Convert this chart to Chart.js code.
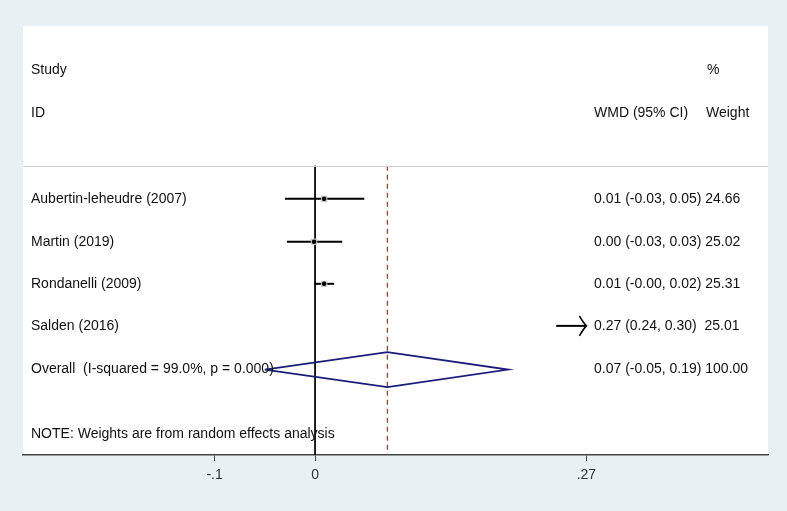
<!DOCTYPE html>
<html>
<head>
<meta charset="UTF-8" />
<title>Forest plot</title>
<script src="https://cdn.jsdelivr.net/npm/chart.js"></script>
<style>
html, body { margin:0; padding:0; background:#e9f0f3; }
#wrap { width:787px; height:511px; position:relative; }
</style>
</head>
<body>
<div id="wrap"><canvas id="chart"></canvas></div>

<script>
// study data (WMD with 95% CI)
const studies = ['Aubertin-leheudre (2007)', 'Martin (2019)', 'Rondanelli (2009)', 'Salden (2016)'];
const wmd     = [0.009, -0.001, 0.009, 0.27];
const ciLow   = [-0.030, -0.028, -0.001, 0.24];
const ciHigh  = [0.049, 0.027, 0.019, 0.30];
const ciText  = ['0.01 (-0.03, 0.05) 24.66', '0.00 (-0.03, 0.03) 25.02', '0.01 (-0.00, 0.02) 25.31', '0.27 (0.24, 0.30)  25.01'];

const overallLabel = 'Overall  (I-squared = 99.0%, p = 0.000)';
const overallEst  = 0.072;
const overallLow  = -0.050;
const overallHigh = 0.192;
const overallText = '0.07 (-0.05, 0.19) 100.00';

const xTicks = [-0.1, 0, 0.27];
const xTickLabels = ['-.1', '0', '.27'];
const xClip = 0.27;   // CI lines beyond this get an arrow

// row positions (in row units from the top)
const studyRows = [4.07, 5.08, 6.07, 7.06];
const overallRow = 8.09;
const sepRow = 3.29;
const bottomRow = 10.1;

const FONT = '14px "Liberation Sans", Arial, sans-serif';

const datasets = [];

// zero line
datasets.push({ type:'line', order:5, data:[{x:0,y:sepRow},{x:0,y:bottomRow}], borderColor:'#000', borderWidth:1, pointRadius:0 });
// overall estimate dashed line
datasets.push({ type:'line', order:4, data:[{x:overallEst,y:sepRow},{x:overallEst,y:bottomRow}], borderColor:'#b03636', borderWidth:1.3, borderDash:[5,4], pointRadius:0 });

// CI lines
studies.forEach((s, i) => {
  const hi = Math.min(ciHigh[i], xClip);
  datasets.push({ type:'line', order:3, data:[{x:ciLow[i],y:studyRows[i]},{x:hi,y:studyRows[i]}], borderColor:'#000', borderWidth:2, pointRadius:0 });
});

// weight boxes + point estimates (only for those inside the axis)
const inside = wmd.map((v, i) => ({x:v, y:studyRows[i]})).filter(p => p.x < xClip);
datasets.push({ type:'scatter', order:2, data:inside, pointStyle:'rect', pointRadius:4.5, backgroundColor:'#cccccc', borderWidth:0 });
datasets.push({ type:'scatter', order:1, data:inside, pointStyle:'circle', pointRadius:2.3, backgroundColor:'#000', borderWidth:0 });

// overall diamond
datasets.push({ type:'line', order:0, data:[
  {x:overallLow,y:overallRow},{x:overallEst,y:overallRow-0.41},{x:overallHigh,y:overallRow},
  {x:overallEst,y:overallRow+0.41},{x:overallLow,y:overallRow}
], borderColor:'#1c1c7c', borderWidth:1.8, pointRadius:0, tension:0 });

const forestText = {
  id:'forestText',
  beforeDraw(chart) {
    const {ctx, chartArea:a} = chart;
    ctx.save();
    ctx.fillStyle = '#fff';
    ctx.fillRect(a.left, a.top, a.right - a.left, a.bottom - a.top);
    ctx.restore();
  },
  afterDatasetsDraw(chart) {
    const {ctx, chartArea:a, scales:{x, y}} = chart;
    ctx.save();
    // header separator
    ctx.strokeStyle = '#cfcfcf';
    ctx.lineWidth = 1;
    ctx.beginPath();
    const sy = Math.round(y.getPixelForValue(sepRow)) + 0.5;
    ctx.moveTo(a.left, sy); ctx.lineTo(a.right, sy); ctx.stroke();

    // arrows for clipped CIs
    ctx.strokeStyle = '#000';
    ctx.lineWidth = 1.6;
    studies.forEach((s, i) => {
      if (ciHigh[i] > xClip) {
        const px = x.getPixelForValue(xClip), py = y.getPixelForValue(studyRows[i]);
        ctx.beginPath();
        ctx.moveTo(px - 7, py - 10); ctx.quadraticCurveTo(px - 3, py - 3, px, py);
        ctx.quadraticCurveTo(px - 3, py + 3, px - 7, py + 10);
        ctx.stroke();
      }
    });

    ctx.fillStyle = '#111';
    ctx.font = FONT;
    ctx.textBaseline = 'middle';
    const lx = a.left + 8;
    const cx = 594;
    ctx.fillText('Study', lx, y.getPixelForValue(1.03));
    ctx.fillText('ID', lx, y.getPixelForValue(2.04));
    ctx.fillText('%', 707, y.getPixelForValue(1.03));
    ctx.fillText('WMD (95% CI)', cx, y.getPixelForValue(2.04));
    ctx.fillText('Weight', 706, y.getPixelForValue(2.04));
    studies.forEach((s, i) => {
      const py = y.getPixelForValue(studyRows[i]);
      ctx.fillText(s, lx, py);
      ctx.fillText(ciText[i], cx, py);
    });
    ctx.fillText(overallLabel, lx, y.getPixelForValue(overallRow));
    ctx.fillText(overallText, cx, y.getPixelForValue(overallRow));
    ctx.fillText('NOTE: Weights are from random effects analysis', lx, y.getPixelForValue(9.6));
    ctx.restore();
  }
};

new Chart(document.getElementById('chart'), {
  data: { datasets },
  options: {
    responsive: true,
    maintainAspectRatio: false,
    animation: false,
    layout: { padding: { left:23, right:19, top:26, bottom:0 } },
    plugins: { legend:{ display:false }, tooltip:{ enabled:false } },
    scales: {
      x: {
        type:'linear',
        min:-0.2906, max:0.4507,
        afterBuildTicks: s => { s.ticks = xTicks.map(v => ({value:v})); },
        afterFit: s => { s.height = 56; },
        ticks: {
          autoSkip:false, maxRotation:0,
          color:'#333', font:{ size:14, family:'"Liberation Sans", Arial, sans-serif' }, padding:6,
          callback: (v) => { const k = xTicks.indexOf(v); return k >= 0 ? xTickLabels[k] : ''; }
        },
        grid: { display:true, drawOnChartArea:false, drawTicks:true, tickLength:6, color:'#444', lineWidth:1 },
        border: { display:true, color:'#444', width:1.5 }
      },
      y: {
        type:'linear', reverse:true, min:0, max:bottomRow,
        display:false
      }
    }
  },
  plugins: [forestText]
});
</script>
</body>
</html>
